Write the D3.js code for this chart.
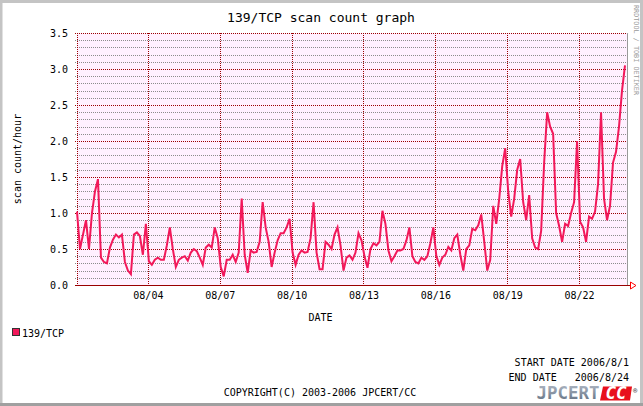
<!DOCTYPE html>
<html>
<head>
<meta charset="utf-8">
<script src="https://cdn.jsdelivr.net/npm/d3@7/dist/d3.min.js"></script>
<style>
  body { margin: 0; background: #fff; }
  text { font-family: "DejaVu Sans Mono", monospace; fill: #000; }
</style>
</head>
<body>
<svg id="chart" width="643" height="406"></svg>
<script>
// 139/TCP scans per hour, one reading every 3 hours from 2006-08-01 01:00
const stepHours = 3
const scanCounts = [
  1.02, 0.5, 0.7, 0.9, 0.5, 1.0, 1.3, 1.47, 0.38, 0.32,
  0.3, 0.52, 0.63, 0.7, 0.66, 0.7, 0.32, 0.2, 0.15, 0.7,
  0.73, 0.68, 0.42, 0.85, 0.33, 0.28, 0.35, 0.38, 0.35, 0.35,
  0.55, 0.8, 0.5, 0.25, 0.35, 0.38, 0.4,
  0.34, 0.45, 0.5, 0.47, 0.38, 0.28, 0.52, 0.56, 0.52, 0.8,
  0.65, 0.25, 0.12, 0.35, 0.35, 0.42, 0.32, 0.45, 1.2, 0.42,
  0.17, 0.48, 0.45, 0.46, 0.6, 1.15, 0.8, 0.6, 0.25, 0.45,
  0.62, 0.72, 0.72, 0.8, 0.92, 0.45, 0.28, 0.42,
  0.48, 0.45, 0.46, 0.65, 1.15, 0.45, 0.22, 0.22, 0.6, 0.56,
  0.5, 0.7, 0.8, 0.55, 0.2, 0.38, 0.41, 0.35, 0.45, 0.72,
  0.62, 0.4, 0.24, 0.5, 0.58, 0.55, 0.6, 1.03, 0.85, 0.48,
  0.33, 0.4, 0.48, 0.48, 0.5, 0.62, 0.8,
  0.4, 0.32, 0.3, 0.38, 0.35, 0.4, 0.58, 0.8, 0.4, 0.28,
  0.38, 0.42, 0.53, 0.48, 0.65, 0.7, 0.42, 0.2, 0.5, 0.55,
  0.78, 0.76, 0.83, 0.98, 0.6, 0.2, 0.35, 1.1, 0.85, 1.2,
  1.65, 1.9, 1.3, 0.95, 1.2,
  1.6, 1.75, 1.15, 0.9, 1.25, 0.65, 0.52, 0.5, 0.75, 1.7,
  2.4, 2.2, 2.1, 1.0, 0.82, 0.6, 0.85, 0.82, 1.0, 1.15,
  2.0, 0.88, 0.8, 0.6, 0.95, 0.92, 1.02, 1.4, 2.4, 1.2,
  0.9, 1.1, 1.7, 1.85, 2.2, 2.7, 3.05
]
const startTime = new Date(2006, 7, 1, 1)
const endTime = new Date(2006, 7, 24, 0)
const yMax = 3.5
const yMajorStep = 0.5
const yMinorStep = 0.1

const lineColor = '#f2185a'
const majorColor = '#9a0000'
const minorColor = '#8c8c8c'

const svg = d3.select('#chart')

// outer frame
svg.append('rect')
  .attr('x', 0).attr('y', 0).attr('width', 643).attr('height', 406)
  .attr('fill', '#fff')
svg.append('path')
  .attr('d', 'M1,405 L1,1.5 L641.5,1.5 L641.5,405')
  .attr('fill', 'none').attr('stroke', '#c4c4c4').attr('stroke-width', 3)
svg.append('line')
  .attr('x1', 0).attr('x2', 643).attr('y1', 404.5).attr('y2', 404.5)
  .attr('stroke', '#a0a0a0').attr('stroke-width', 3)

const pLeft = 77, pRight = 627, pTop = 33, pBottom = 285

const x = d3.scaleTime().domain([startTime, endTime]).range([pLeft, pRight])
const y = d3.scaleLinear().domain([0, yMax]).range([pBottom, pTop])

const data = scanCounts.map((v, i) => ({
  t: d3.timeHour.offset(startTime, i * stepHours),
  v: v
}))

svg.append('rect')
  .attr('x', pLeft).attr('y', pTop)
  .attr('width', pRight - pLeft).attr('height', pBottom - pTop)
  .attr('fill', '#fff0ff')

let grid = svg.append('g').attr('shape-rendering', 'crispEdges')

// minor horizontal grid
const minorVals = d3.range(0, yMax + 1e-9, yMinorStep)
  .filter(v => Math.abs(v / yMajorStep - Math.round(v / yMajorStep)) > 1e-6)
grid.selectAll('line.minor')
  .data(minorVals)
  .join('line')
  .attr('class', 'minor')
  .attr('x1', pLeft - 2).attr('x2', pRight + 2)
  .attr('y1', d => Math.round(y(d)) + 0.5)
  .attr('y2', d => Math.round(y(d)) + 0.5)
  .attr('stroke', minorColor)
  .attr('stroke-dasharray', '1,1')

// major horizontal grid
const majorVals = d3.range(0, yMax + 1e-9, yMajorStep)
grid.selectAll('line.major')
  .data(majorVals.filter(v => v > 0))
  .join('line')
  .attr('class', 'major')
  .attr('x1', pLeft - 2).attr('x2', pRight + 2)
  .attr('y1', d => Math.round(y(d)) + 0.5)
  .attr('y2', d => Math.round(y(d)) + 0.5)
  .attr('stroke', majorColor)
  .attr('stroke-dasharray', '1,1')

// vertical grid every 3 days
const dayTicks = d3.timeDay.every(3).range(startTime, endTime)
grid.selectAll('line.vmajor')
  .data(dayTicks)
  .join('line')
  .attr('class', 'vmajor')
  .attr('x1', d => Math.round(x(d)) + 0.5)
  .attr('x2', d => Math.round(x(d)) + 0.5)
  .attr('y1', pTop).attr('y2', pBottom + 2)
  .attr('stroke', majorColor)
  .attr('stroke-dasharray', '1,1')

// left edge and right frame
grid.append('line')
  .attr('x1', pLeft + 0.5).attr('x2', pLeft + 0.5)
  .attr('y1', pTop).attr('y2', pBottom + 2)
  .attr('stroke', majorColor).attr('stroke-dasharray', '1,1')
grid.append('line')
  .attr('x1', pRight + 0.5).attr('x2', pRight + 0.5)
  .attr('y1', pTop).attr('y2', pBottom)
  .attr('stroke', '#9a9a9a')

// data line
const line = d3.line()
  .x(d => x(d.t))
  .y(d => y(d.v))

svg.append('path')
  .datum(data)
  .attr('fill', 'none')
  .attr('stroke', lineColor)
  .attr('stroke-width', 2)
  .attr('stroke-linejoin', 'miter')
  .attr('d', line)

// x axis line with arrow
grid.append('line')
  .attr('x1', pLeft - 2).attr('x2', pRight + 4)
  .attr('y1', pBottom + 0.5).attr('y2', pBottom + 0.5)
  .attr('stroke', majorColor)
svg.append('path')
  .attr('d', `M${pRight + 3.5},${pBottom - 3} L${pRight + 9},${pBottom + 0.5} L${pRight + 3.5},${pBottom + 4} Z`)
  .attr('fill', '#fff').attr('stroke', '#ff0000').attr('stroke-width', 1)

// axes labels via d3 axes
const yAxis = svg.append('g')
  .attr('transform', `translate(${pLeft},0)`)
  .call(d3.axisLeft(y).tickValues(majorVals).tickSize(0).tickPadding(9).tickFormat(d3.format('.1f')))
yAxis.select('.domain').remove()
yAxis.selectAll('text')
  .attr('font-family', 'DejaVu Sans Mono').attr('font-size', 10).attr('fill', '#000')

const xAxis = svg.append('g')
  .attr('transform', `translate(0,${pBottom})`)
  .call(d3.axisBottom(x).tickValues(dayTicks).tickSize(0).tickPadding(7).tickFormat(d3.timeFormat('%m/%d')))
xAxis.select('.domain').remove()
xAxis.selectAll('text')
  .attr('font-family', 'DejaVu Sans Mono').attr('font-size', 10).attr('fill', '#000')

// titles
svg.append('text')
  .attr('x', 321).attr('y', 21.5)
  .attr('text-anchor', 'middle')
  .attr('font-size', 13)
  .text('139/TCP scan count graph')

svg.append('text')
  .attr('transform', `translate(20.5,${(pTop + pBottom) / 2}) rotate(-90)`)
  .attr('text-anchor', 'middle')
  .attr('font-size', 10)
  .text('scan count/hour')

svg.append('text')
  .attr('x', 320.5).attr('y', 321)
  .attr('text-anchor', 'middle')
  .attr('font-size', 10)
  .text('DATE')

svg.append('text')
  .attr('transform', 'translate(633.5,5) rotate(90)')
  .attr('font-size', 6.8)
  .style('fill', '#9a9a9a')
  .text('RRDTOOL / TOBI OETIKER')

// legend
svg.append('rect')
  .attr('x', 12.5).attr('y', 328.5).attr('width', 7).attr('height', 7)
  .attr('fill', lineColor).attr('stroke', '#333')
svg.append('text')
  .attr('x', 22).attr('y', 336.5)
  .attr('font-size', 10)
  .text('139/TCP')

svg.append('text')
  .attr('x', 629).attr('y', 366)
  .attr('text-anchor', 'end').attr('font-size', 10)
  .text('START DATE 2006/8/1')
svg.append('text')
  .attr('x', 629).attr('y', 381)
  .attr('text-anchor', 'end').attr('font-size', 10)
  .attr('xml:space', 'preserve')
  .style('white-space', 'pre')
  .text('END DATE   2006/8/24')

svg.append('text')
  .attr('x', 320).attr('y', 396)
  .attr('text-anchor', 'middle').attr('font-size', 10)
  .text('COPYRIGHT(C) 2003-2006 JPCERT/CC')

// JPCERT/CC logo
const defs = svg.append('defs')
const grad = defs.append('linearGradient')
  .attr('id', 'logoGrad').attr('x1', 0).attr('x2', 0).attr('y1', 0).attr('y2', 1)
grad.append('stop').attr('offset', '0%').attr('stop-color', '#b4bcc8')
grad.append('stop').attr('offset', '100%').attr('stop-color', '#5c6a7c')

svg.append('text')
  .attr('x', 536.5).attr('y', 399)
  .attr('font-family', 'Liberation Serif')
  .attr('font-weight', 'bold')
  .attr('font-size', 17.5)
  .attr('textLength', 63).attr('lengthAdjust', 'spacingAndGlyphs')
  .style('fill', 'url(#logoGrad)')
  .text('JPCERT')
svg.append('path')
  .attr('d', 'M603,386.5 L632,386.5 L630,400.5 L600,400.5 Z')
  .attr('fill', '#e8101c')
svg.append('text')
  .attr('x', 616).attr('y', 399)
  .attr('text-anchor', 'middle')
  .attr('font-family', 'Liberation Serif')
  .attr('font-weight', 'bold').attr('font-style', 'italic')
  .attr('font-size', 17.5)
  .style('fill', '#fff')
  .text('CC')
svg.append('text')
  .attr('x', 633).attr('y', 392.5)
  .attr('font-family', 'DejaVu Sans')
  .attr('font-weight', 'bold')
  .attr('font-size', 7)
  .style('fill', '#555')
  .text('®')
</script>
</body>
</html>
